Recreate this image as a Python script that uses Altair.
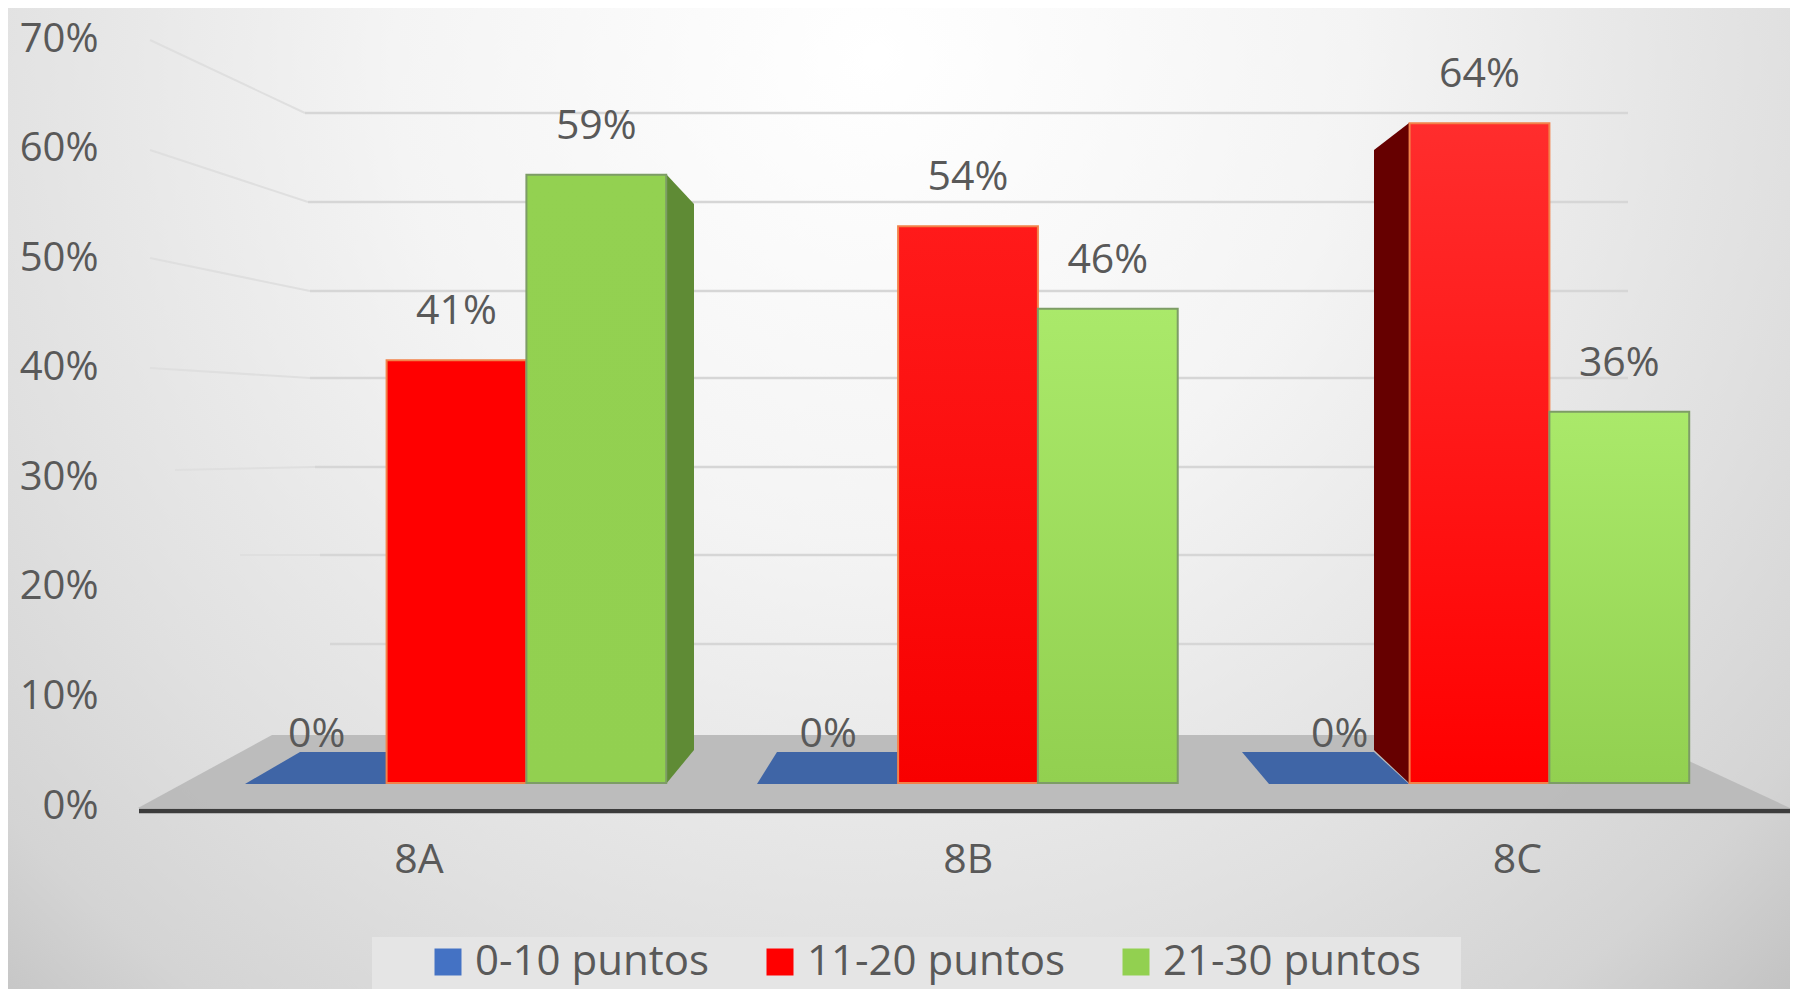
import altair as alt
import pandas as pd

# ---- chart values ----
groups = ["8A", "8B", "8C"]
series = ["0-10 puntos", "11-20 puntos", "21-30 puntos"]
low = [0, 0, 0]
mid = [41, 54, 64]
high = [59, 46, 36]
axis_ticks = [0, 10, 20, 30, 40, 50, 60, 70]
series_colors = ["#4472c4", "#ff0000", "#92d050"]

FONT = "Open Sans"
TXT = "#595959"
W, H = 1782, 981
PCT_PX = 10.31
BASE = 775  # plot-space y of bar zero


def px(v):   # page x -> plot x
    return v - 8


def pc(v):   # page y -> bar-scale percent
    return (783 - v) / PCT_PX


rows = []
for g, a, b, c in zip(groups, low, mid, high):
    for s, v in zip(series, (a, b, c)):
        rows.append({"group": g, "series": s, "value": v, "label": f"{v}%"})
bars_df = pd.DataFrame(rows)

# shared scales
x_band = alt.Scale(domain=groups, range=[px(200.75), px(1735.25)], paddingInner=0.18, paddingOuter=0.09)
x_off = alt.Scale(domain=series, paddingInner=0, paddingOuter=0)
y_bar = alt.Scale(domain=[0, 70], range=[BASE, BASE - 70 * PCT_PX])
x_px = alt.Scale(domain=[0, W], range=[0, W])


def face(name, fill, pts):
    return [{"face": name, "fill": fill, "x": px(x), "y": pc(t), "y2": pc(b)} for x, t, b in pts]


# 3-D scenery: (x, top, bottom)
faces = []
faces += face("floor", "#b9b9b9", [(138, 808, 808), (272, 735, 808), (1633, 735, 808), (1790, 808, 808)])
faces += face("a0", "#3f65a6", [(245, 784, 784), (300, 752, 784), (386, 752, 784)])
faces += face("b0", "#3f65a6", [(757, 784, 784), (777, 752, 784), (898, 752, 784)])
faces += face("c0", "#3f65a6", [(1242, 752, 752), (1269, 752, 784), (1374, 752, 784), (1409, 784, 784)])
faces += face("a2", "#5f8b35", [(666, 174, 784), (694, 204, 750)])
faces += face("c1", "#660000", [(1374, 150, 750), (1409, 123, 783)])
faces_df = pd.DataFrame(faces)

# back-wall gridlines and their slanted side-wall part
back_pts = [
    [(305, 113), (1628, 113)],
    [(308, 202), (1628, 202)],
    [(310, 291), (1628, 291)],
    [(310, 378), (1628, 378)],
    [(315, 467), (1628, 467)],
    [(320, 555), (1628, 555)],
    [(330, 644), (1628, 644)],
]
side_pts = [
    [(150, 40), (305, 113)],
    [(150, 150), (308, 202)],
    [(150, 258), (310, 291)],
    [(150, 368), (310, 378)],
    [(175, 470), (315, 467)],
    [(240, 555), (320, 555)],
]


def lines_df(groups_of_points):
    out = []
    for i, pts in enumerate(groups_of_points):
        for x, y in pts:
            out.append({"line": i, "x": px(x), "y": pc(y)})
    return pd.DataFrame(out)


axis_df = pd.DataFrame({"group": groups, "tick": [0, 0, 0]})

bg = alt.Chart(pd.DataFrame({"a": [0]})).mark_rect(
    color=alt.RadialGradient(
        gradient="radial", x1=0.49, y1=0.02, r1=0, x2=0.49, y2=0.02, r2=0.8,
        stops=[
            alt.GradientStop(offset=0, color="#ffffff"),
            alt.GradientStop(offset=0.25, color="#f4f4f4"),
            alt.GradientStop(offset=0.48, color="#e0e0e0"),
            alt.GradientStop(offset=0.6, color="#d4d4d4"),
            alt.GradientStop(offset=0.7, color="#bfbfbf"),
            alt.GradientStop(offset=1, color="#b8b8b8"),
        ],
    )
).encode(x=alt.value(0), x2=alt.value(W), y=alt.value(0), y2=alt.value(2400))


def gridlines(df, color, width):
    return alt.Chart(df).mark_line(color=color, strokeWidth=width).encode(
        x=alt.X("x:Q", scale=x_px, axis=None),
        y=alt.Y("y:Q", scale=y_bar, axis=None),
        detail="line:N",
    )


grid_back = gridlines(lines_df(back_pts), "#d6d6d6", 2.5)
grid_side = gridlines(lines_df(side_pts), "#dfdfdf", 2)

floor = alt.Chart(faces_df[faces_df.face == "floor"]).mark_area(opacity=0.95).encode(
    x=alt.X("x:Q", scale=x_px, axis=None),
    y=alt.Y("y:Q", scale=y_bar, axis=None),
    y2="y2:Q",
    color=alt.Color("fill:N", scale=None),
)

base_line = alt.Chart(pd.DataFrame({"a": [0]})).mark_rule(color="#3c3c3c", strokeWidth=4.5).encode(
    x=alt.value(px(139)), x2=alt.value(W), y=alt.value(803)
)

legend_box = alt.Chart(pd.DataFrame({"a": [0]})).mark_rect(color="#e5e5e5").encode(
    x=alt.value(px(372)), x2=alt.value(px(1461)), y=alt.value(929), y2=alt.value(H)
)

sides = alt.Chart(faces_df[faces_df.face != "floor"]).mark_area().encode(
    x=alt.X("x:Q", scale=x_px, axis=None),
    y=alt.Y("y:Q", scale=y_bar, axis=None),
    y2="y2:Q",
    color=alt.Color("fill:N", scale=None),
    detail="face:N",
)

bars = alt.Chart(bars_df).mark_bar(strokeWidth=0).encode(
    x=alt.X("group:N", scale=x_band, axis=None),
    xOffset=alt.XOffset("series:N", scale=x_off),
    y=alt.Y("value:Q", scale=y_bar, axis=None),
    color=alt.Color(
        "series:N",
        scale=alt.Scale(domain=series, range=series_colors),
        legend=alt.Legend(
            title=None, orient="none", legendX=px(427), legendY=933, direction="horizontal",
            columns=3, symbolType="square", symbolSize=729, symbolStrokeWidth=0,
            labelFont=FONT, labelFontSize=42, labelColor=TXT, labelOffset=6,
            columnPadding=50, padding=0, labelLimit=400,
        ),
    ),
)


def grad(col_top, col_bot):
    return alt.LinearGradient(
        gradient="linear", x1=0, x2=0, y1=0, y2=1,
        stops=[alt.GradientStop(offset=0, color=col_top), alt.GradientStop(offset=1, color=col_bot)],
    )


def overlay(s, g, top, bot, stroke):
    d = bars_df[(bars_df.series == s) & (bars_df.group.isin(g))]
    return alt.Chart(d).mark_bar(color=grad(top, bot), stroke=stroke, strokeWidth=2).encode(
        x=alt.X("group:N", scale=x_band, axis=None),
        xOffset=alt.XOffset("series:N", scale=x_off),
        y=alt.Y("value:Q", scale=y_bar, axis=None),
    )


red_a = overlay(series[1], ["8A"], "#ff0000", "#ff0000", "#f2824a")
red_b = overlay(series[1], ["8B"], "#ff1a1a", "#f80000", "#f2824a")
red_c = overlay(series[1], ["8C"], "#ff2d2d", "#ff0000", "#f2824a")
grn_a = overlay(series[2], ["8A"], "#93d151", "#92d050", "#7d9c66")
grn_b = overlay(series[2], ["8B", "8C"], "#aae96a", "#92d050", "#7d9c66")

labels = alt.Chart(bars_df).mark_text(
    font=FONT, fontSize=41, color=TXT, dy=-48, baseline="middle", align="center"
).encode(
    x=alt.X("group:N", scale=x_band, axis=None),
    xOffset=alt.XOffset("series:N", scale=x_off),
    y=alt.Y("value:Q", scale=y_bar, axis=None),
    text="label:N",
)

axes = alt.Chart(axis_df).mark_point(opacity=0).encode(
    x=alt.X(
        "group:N",
        scale=alt.Scale(type="point", domain=groups, range=[px(418.5), px(1517)], padding=0),
        axis=alt.Axis(
            orient="bottom", title=None, domain=False, ticks=False, labelAngle=0, offset=-149,
            labelPadding=0, labelFont=FONT, labelFontSize=41, labelColor=TXT, grid=False, zindex=1,
        ),
    ),
    y=alt.Y(
        "tick:Q",
        scale=alt.Scale(domain=[0, 70], range=[798, 31]),
        axis=alt.Axis(
            orient="left", title=None, domain=False, ticks=False, offset=-90, labelPadding=0,
            values=axis_ticks, format=".0f", labelExpr="datum.value + '%'", labelFont=FONT,
            labelFontSize=40, labelColor=TXT, grid=False, zindex=1,
        ),
    ),
)

chart = alt.layer(
    bg, grid_side, grid_back, floor, legend_box, base_line, sides, bars,
    red_a, red_b, red_c, grn_a, grn_b, labels, axes,
).resolve_scale(x="independent", y="independent", color="independent").properties(
    width=W, height=H, padding=0, autosize=alt.AutoSizeParams(type="none"), background="#d4d4d4"
).configure_view(strokeWidth=0)

chart.save("out.html", embed_options={"renderer": "svg", "actions": False})
